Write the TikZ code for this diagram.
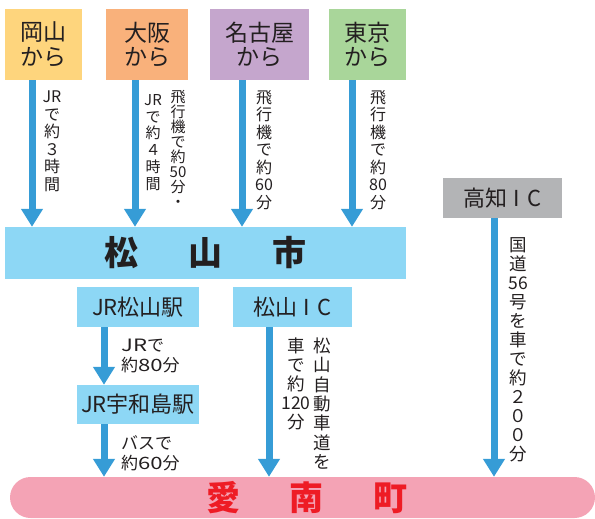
\documentclass[tikz,border=0pt]{standalone}
\usepackage{fontspec}
\setmainfont{Noto Sans CJK JP}
\usepackage{graphicx}
\usetikzlibrary{arrows.meta}
\definecolor{txt}{HTML}{231F20}
\definecolor{cOka}{HTML}{FED57D}
\definecolor{cOsa}{HTML}{F9B17B}
\definecolor{cNag}{HTML}{C5A6CD}
\definecolor{cTok}{HTML}{A9D69A}
\definecolor{cKoc}{HTML}{B3B4B6}
\definecolor{cSky}{HTML}{8DD7F5}
\definecolor{cArr}{HTML}{369CD6}
\definecolor{cPink}{HTML}{F4A3B5}
\definecolor{cRed}{HTML}{EE1C25}
\newcommand\wdig[1]{\scalebox{1.3}[1]{#1}}
\begin{document}
\begin{tikzpicture}[x=1pt,y=-1pt,
  src/.style={inner sep=0, text=txt, align=center, font=\fontsize{23}{24.5}\selectfont},
  stn/.style={inner sep=0, fill=cSky, text=txt, align=center, font=\fontsize{22}{24}\selectfont, minimum height=40pt},
  arr/.style={draw=cArr, line width=7pt, -{Triangle[width=21pt,length=18pt]}},
  vlab/.style={inner sep=0, text=txt, align=center},
  hlab/.style={inner sep=0, text=txt, align=left, anchor=west, font=\fontsize{17}{20}\selectfont}]
\useasboundingbox (0,0) rectangle (595,519);

% source boxes
\node[src, fill=cOka, minimum width=77pt, minimum height=71pt] (okayama) at (43.5,44.5) {岡山\\から};
\node[src, fill=cOsa, minimum width=82pt, minimum height=71pt] (osaka) at (147,44.5) {大阪\\から};
\node[src, fill=cNag, minimum width=99pt, minimum height=71pt] (nagoya) at (259.5,44.5) {名古屋\\から};
\node[src, fill=cTok, minimum width=77pt, minimum height=71pt] (tokyo) at (367.5,44.5) {東京\\から};
\node[src, fill=cKoc, minimum width=119pt, minimum height=40pt, font=\fontsize{22}{24}\selectfont] (kochi) at (502.5,198) {高知\hspace{6pt}I\hspace{7pt}C};

% Matsuyama bar
\node[inner sep=0, fill=cSky, minimum width=401pt, minimum height=52pt, text=txt,
      font=\fontsize{34}{36}\bfseries\selectfont] (matsuyama) at (205.5,253) {松\hspace{50pt}山\hspace{50pt}市};

% stations
\node[stn, minimum width=122pt] (jrm) at (138,307) {JR松山駅};
\node[stn, minimum width=119pt] (mic) at (292.5,307) {松山\hspace{6pt}I\hspace{7pt}C};
\node[stn, minimum width=122pt, minimum height=39pt] (jru) at (138,404.5) {JR宇和島駅};

% Ainan bar
\node[inner sep=0, fill=cPink, rounded corners=20.5pt, minimum width=585pt, minimum height=41pt, text=cRed,
      font=\fontsize{34}{36}\bfseries\selectfont] (ainan) at (302.5,497.5) {\hspace*{9pt}愛\hspace{50pt}南\hspace{50pt}町};

% column coordinates
\coordinate (c1) at (32,0);
\coordinate (c2) at (135,0);
\coordinate (c3) at (242,0);
\coordinate (c4) at (352,0);
\coordinate (c5) at (494,0);
\coordinate (c6) at (104,0);
\coordinate (c7) at (269,0);

% arrows
\draw[arr] (okayama.south -| c1) -- (matsuyama.north -| c1);
\draw[arr] (osaka.south -| c2) -- (matsuyama.north -| c2);
\draw[arr] (nagoya.south -| c3) -- (matsuyama.north -| c3);
\draw[arr] (tokyo.south -| c4) -- (matsuyama.north -| c4);
\draw[arr] (kochi.south -| c5) -- (ainan.north -| c5);
\draw[arr] (jrm.south -| c6) -- (jru.north -| c6);
\draw[arr] (jru.south -| c6) -- (ainan.north -| c6);
\draw[arr] (mic.south -| c7) -- (ainan.north -| c7);

% vertical labels
\node[vlab, font=\fontsize{16}{17.5}\selectfont] (lOka) at (52,141.5) {JR\\で\\約\\３\\時\\間};
\node[vlab, font=\fontsize{15}{16.8}\selectfont] (lOsa1) at (153,142.5) {JR\\で\\約\\４\\時\\間};
\node[vlab, font=\fontsize{15}{15}\selectfont] (lOsa2) at (178,149) {飛\\行\\機\\で\\約\\50\\分\\・};
\node[vlab, font=\fontsize{16}{17.5}\selectfont] (lNag) at (264,150) {飛\\行\\機\\で\\約\\60\\分};
\node[vlab, font=\fontsize{16}{17.5}\selectfont] (lTok) at (378,150) {飛\\行\\機\\で\\約\\80\\分};
\node[vlab, font=\fontsize{17.5}{19}\selectfont] (lKoc) at (518,350) {国\\道\\56\\号\\を\\車\\で\\約\\２\\０\\０\\分};
\node[vlab, font=\fontsize{17.5}{19.3}\selectfont] (lMic2) at (322,403.5) {松\\山\\自\\動\\車\\道\\を};
\node[vlab, font=\fontsize{17.5}{19}\selectfont] (lMic1) at (296,383.5) {車\\で\\約\\120\\分};

% horizontal labels
\node[hlab] (lJr) at (121,356) {\wdig{JR}で\\約\wdig{80}分};
\node[hlab] (lBus) at (121,453) {バスで\\約\wdig{60}分};
\end{tikzpicture}
\end{document}
